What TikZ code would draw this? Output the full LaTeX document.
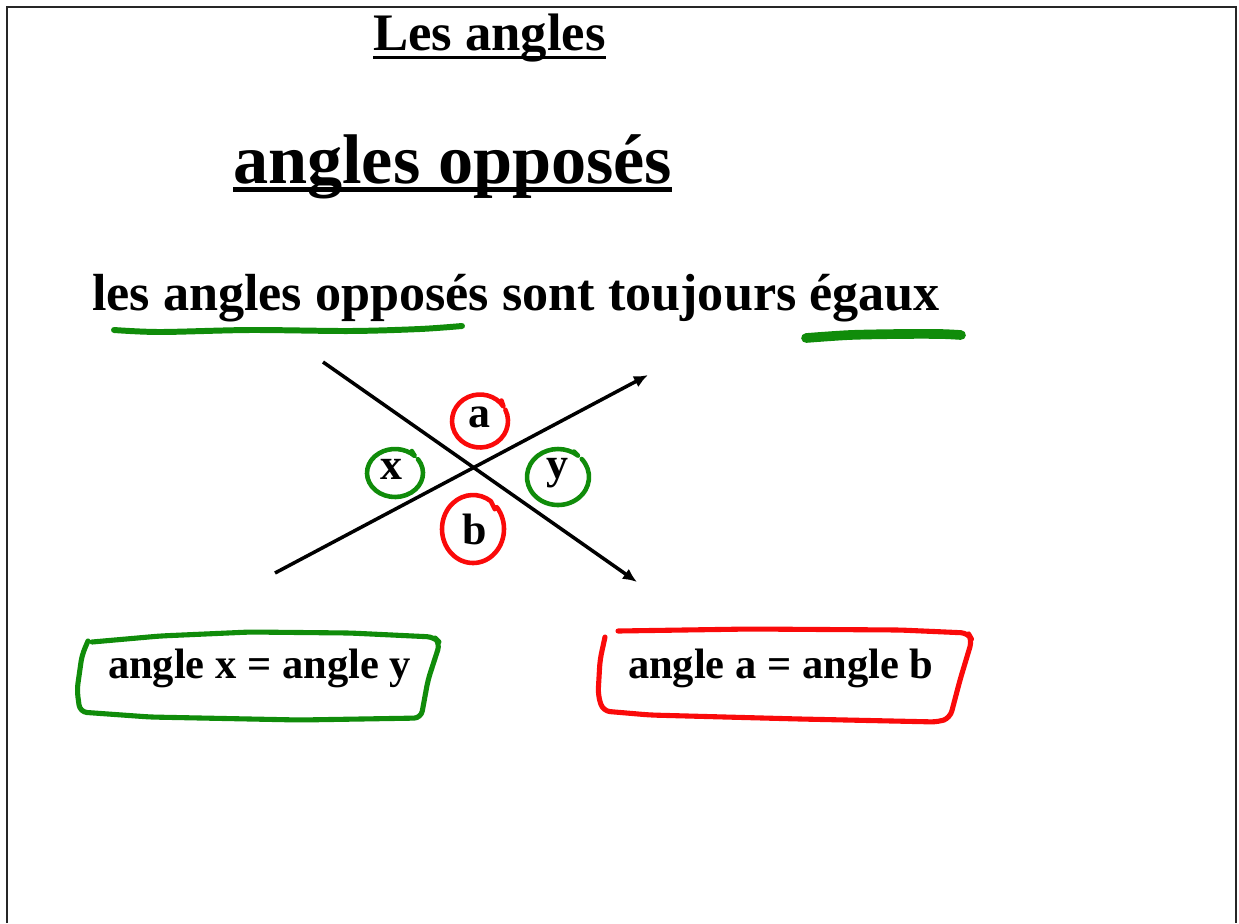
\documentclass[tikz,border=0pt]{standalone}
\usepackage{fontspec}
\setmainfont{Liberation Serif}
\usetikzlibrary{arrows.meta}
\definecolor{vertstylo}{RGB}{16,140,10}
\definecolor{rougestylo}{RGB}{250,10,10}
\begin{document}
\begin{tikzpicture}[x=0.02cm,y=-0.02cm,
  every node/.style={inner sep=0pt, outer sep=0pt},
  texte/.style={font=\bfseries\fontsize{#1}{#1}\selectfont},
  souligne/.style={line width=#1},
  stylovert/.style={draw=vertstylo, line width=2.6pt, line cap=round, line join=round},
  stylorouge/.style={draw=rougestylo, line width=2.6pt, line cap=round, line join=round},
  fleche/.style={line width=2pt, -{Latex[length=8pt,width=7pt]}}]
\useasboundingbox (0,0) rectangle (1239,923);
\draw[line width=1.2pt, black!85] (7,923) -- (7,7) -- (1236,7) -- (1236,923);
\node[texte=30pt, anchor=base west] (titre) at (373,50) {Les angles};
\draw[souligne=1.7pt] ([yshift=-4pt]titre.base west) -- ([yshift=-4pt]titre.base east);
\node[texte=40pt, anchor=base west] (sujet) at (233,183) {angles opposés};
\draw[souligne=2.8pt] ([yshift=-3.7pt]sujet.base west) -- ([yshift=-3.7pt]sujet.base east);
\node[texte=29.7pt, anchor=base west] (regle) at (92,310) {les angles opposés sont toujours égaux};
\draw[stylovert, line width=3.4pt] plot[smooth] coordinates {(114,330) (160,332) (250,330) (350,331) (420,329) (462,326)};
\draw[stylovert, line width=5.5pt] plot[smooth] coordinates {(806,338) (850,335) (900,334) (940,334) (961,335)};
\coordinate (d1) at (323,362);
\coordinate (f1) at (637,582);
\coordinate (d2) at (275,573);
\coordinate (f2) at (648,375);
\draw[fleche] (d1) -- (f1);
\draw[fleche] (d2) -- (f2);
\node[texte=25pt] (la) at (479,417) {a};
\node[texte=25pt] (lx) at (391,469) {x};
\node[texte=25pt] (ly) at (557,473) {y};
\node[texte=25pt] (lb) at (475,529) {b};
\draw[stylorouge] (480,421) ++(-25:28 and 26.5) arc[start angle=-25, delta angle=352, x radius=28, y radius=26.5] -- ++(-2,-6);
\draw[stylovert] (395,473) ++(-35:28 and 24) arc[start angle=-35, delta angle=350, x radius=28, y radius=24] -- ++(-3,-5);
\draw[stylovert] (558,477) ++(-40:31 and 28) arc[start angle=-40, delta angle=350, x radius=31, y radius=28] -- ++(-4,-4);
\draw[stylorouge] (473,529) ++(-40:31 and 34) arc[start angle=-40, delta angle=345, x radius=31, y radius=34] -- ++(4,8);
\node[texte=24.2pt, anchor=base west] (egalxy) at (108,678) {angle x = angle y};
\node[texte=24.2pt, anchor=base west] (egalab) at (628,678) {angle a = angle b};
\draw[stylovert, line width=2.9pt, rounded corners=4pt] (92,642) -- (160,636) -- (250,632) -- (350,633) -- (434,637) -- (440,643) -- (428,680) -- (421,718) -- (300,720) -- (150,717) -- (80,712) -- (77,690) -- (82,655) -- (88,641);
\draw[stylorouge, line width=2.9pt, rounded corners=4pt] (618,631) -- (750,629) -- (900,630) -- (968,633) -- (972,640) -- (960,680) -- (950,718) -- (938,722) -- (800,719) -- (650,715) -- (603,711) -- (598,695) -- (600,660) -- (605,637);
\end{tikzpicture}
\end{document}
